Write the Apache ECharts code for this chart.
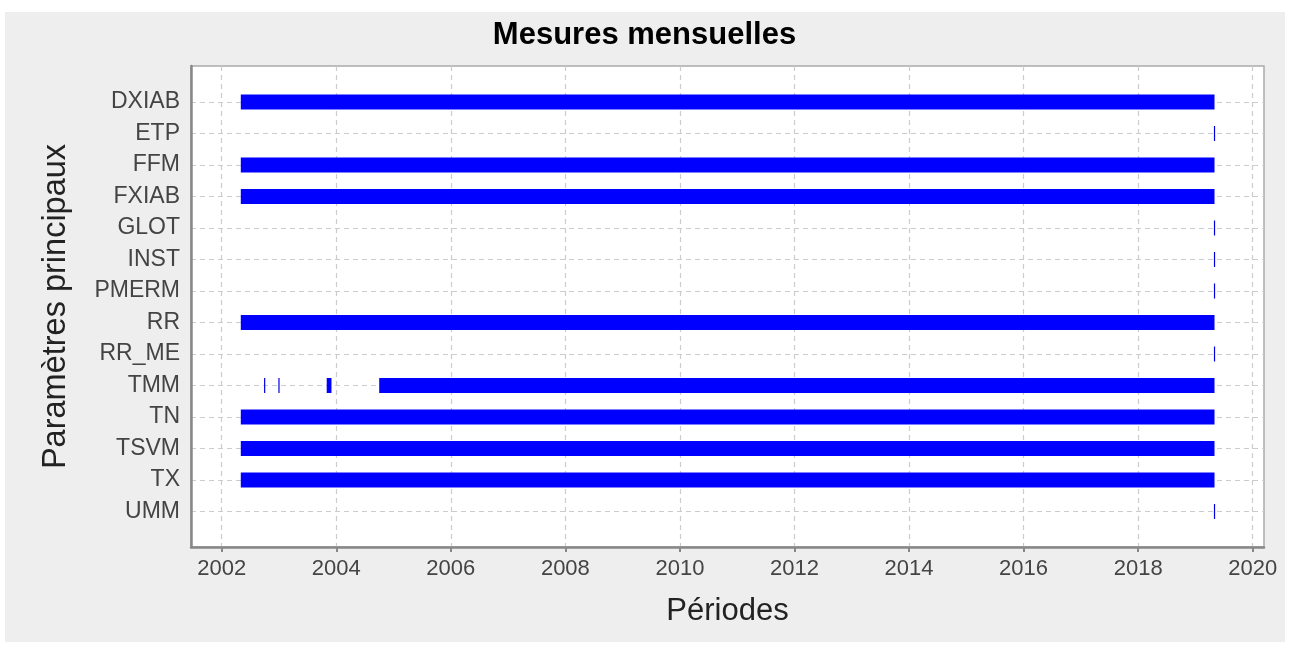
<!DOCTYPE html>
<html>
<head>
<meta charset="utf-8">
<script src="https://cdn.jsdelivr.net/npm/echarts@6/dist/echarts.min.js"></script>
<style>
html,body{margin:0;padding:0;background:#fff;width:1289px;height:646px;overflow:hidden;}
#bg{position:absolute;left:5px;top:12px;width:1280px;height:630px;background:#eeeeee;}
#plotbg{position:absolute;left:191px;top:66px;width:1073px;height:481px;background:#fff;}
#chart{position:absolute;left:0;top:0;width:1289px;height:646px;}
</style>
</head>
<body>
<div id="bg"></div>
<div id="plotbg"></div>
<div id="chart"></div>
<script>
// ---- data ----
const categories = ['DXIAB','ETP','FFM','FXIAB','GLOT','INST','PMERM','RR','RR_ME','TMM','TN','TSVM','TX','UMM'];
// measurement periods per parameter: [start month, end month]
const periodsDXIAB = [['2002-05','2019-05']];
const periodsETP   = [['2019-05','2019-05']];
const periodsFFM   = [['2002-05','2019-05']];
const periodsFXIAB = [['2002-05','2019-05']];
const periodsGLOT  = [['2019-05','2019-05']];
const periodsINST  = [['2019-05','2019-05']];
const periodsPMERM = [['2019-05','2019-05']];
const periodsRR    = [['2002-05','2019-05']];
const periodsRR_ME = [['2019-05','2019-05']];
const periodsTMM   = [['2002-10','2002-10'],['2003-01','2003-01'],['2003-11','2003-12'],['2004-10','2019-05']];
const periodsTN    = [['2002-05','2019-05']];
const periodsTSVM  = [['2002-05','2019-05']];
const periodsTX    = [['2002-05','2019-05']];
const periodsUMM   = [['2019-05','2019-05']];
const xTickMin = 2002, xTickMax = 2020, xTickStep = 2;

const periodsByCat = {
  DXIAB: periodsDXIAB, ETP: periodsETP, FFM: periodsFFM, FXIAB: periodsFXIAB,
  GLOT: periodsGLOT, INST: periodsINST, PMERM: periodsPMERM, RR: periodsRR,
  RR_ME: periodsRR_ME, TMM: periodsTMM, TN: periodsTN, TSVM: periodsTSVM,
  TX: periodsTX, UMM: periodsUMM
};
function toYear(s){ const p = s.split('-'); return +p[0] + (+p[1]-1)/12; }
const seriesData = [];
categories.forEach(c => {
  periodsByCat[c].forEach(p => seriesData.push([c, toYear(p[0]), toYear(p[1])]));
});

// ---- layout ----
const W = 1289, H = 646;
const plotL = 191, plotR = 1264, plotT = 66, plotB = 547;
const tickPxMin = 221.7, tickPxMax = 1252.7;
const pxPerYear = (tickPxMax - tickPxMin) / (xTickMax - xTickMin);
const xMinVal = xTickMin - (tickPxMin - plotL) / pxPerYear;
const xMaxVal = xTickMax + (plotR - tickPxMax) / pxPerYear;
const rowTop = 102, rowBottom = 511.5;

const FONT = "'Liberation Sans', Arial, Helvetica, sans-serif";
const gridLine = {show:true, lineStyle:{color:'#cccccc', width:1.2, type:[5,4]}};

const chart = echarts.init(document.getElementById('chart'), null, {renderer:'canvas'});
chart.setOption({
  backgroundColor: 'transparent',
  animation: false,
  title: {
    text: 'Mesures mensuelles', left: 'center', top: 15,
    textStyle: {fontFamily: FONT, fontSize: 31, fontWeight: 'bold', color: '#000'}
  },
  grid: [
    {left: plotL, right: W - plotR, top: plotT, bottom: H - plotB, show: true,
     backgroundColor: 'transparent', borderColor: '#aaaaaa', borderWidth: 1.5},
    {left: tickPxMin, right: W - tickPxMax, top: plotT, bottom: H - plotB},
    {left: plotL, right: W - plotR, top: rowTop, bottom: H - rowBottom}
  ],
  xAxis: [
    {gridIndex: 0, type: 'value', min: 0, max: 1,
     axisLine: {show: true, lineStyle: {color: '#888', width: 2.5}},
     axisTick: {show: false}, axisLabel: {show: false}, splitLine: {show: false},
     name: 'Périodes', nameLocation: 'middle', nameGap: 49,
     nameTextStyle: {fontFamily: FONT, fontSize: 31, color: '#222'}},
    {gridIndex: 1, type: 'value', min: xTickMin, max: xTickMax, interval: xTickStep,
     axisLine: {show: false},
     axisTick: {show: true, length: 5, lineStyle: {color: '#888', width: 2}},
     axisLabel: {fontFamily: FONT, fontSize: 22, color: '#444', margin: 11,
                 formatter: function (v) { return String(v); }},
     splitLine: gridLine},
    {gridIndex: 2, type: 'value', min: xMinVal, max: xMaxVal, show: false}
  ],
  yAxis: [
    {gridIndex: 0, type: 'value', min: 0, max: 1,
     axisLine: {show: true, lineStyle: {color: '#888', width: 2.5}},
     axisTick: {show: false}, axisLabel: {show: false}, splitLine: {show: false},
     name: 'Paramètres principaux', nameLocation: 'middle', nameGap: 118,
     nameTextStyle: {fontFamily: FONT, fontSize: 32.5, color: '#222'}},
    {gridIndex: 1, type: 'value', show: false},
    {gridIndex: 2, type: 'category', data: categories, inverse: true, boundaryGap: false,
     axisLine: {show: false}, axisTick: {show: false},
     axisLabel: {fontFamily: FONT, fontSize: 23, color: '#444', margin: 11, interval: 0},
     splitLine: Object.assign({interval: 0}, gridLine)}
  ],
  series: [{
    type: 'custom',
    xAxisIndex: 2, yAxisIndex: 2,
    encode: {x: [1, 2], y: 0},
    data: seriesData,
    renderItem: function (params, api) {
      const yi = api.value(0);
      const p0 = api.coord([api.value(1), yi]);
      const p1 = api.coord([api.value(2), yi]);
      const h = 15;
      let w = p1[0] - p0[0];
      if (w < 1) {
        return {type: 'rect', shape: {x: p0[0] - 0.6, y: p0[1] - h / 2, width: 1.2, height: h},
                style: {fill: '#0000e0'}};
      }
      return {type: 'rect', shape: {x: p0[0], y: p0[1] - h / 2, width: w, height: h},
              style: {fill: '#0000ff'}};
    }
  }]
});
</script>
</body>
</html>
